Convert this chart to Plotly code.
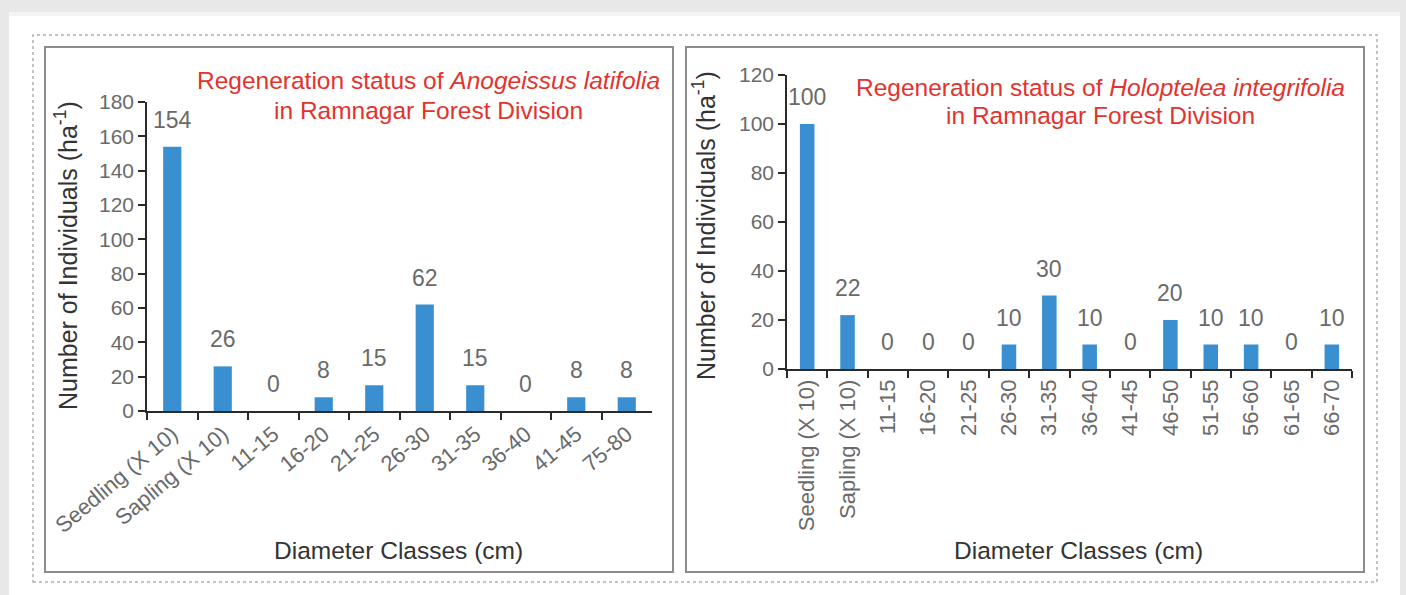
import plotly.graph_objects as go

# ---------------- data ----------------
left_categories = ["Seedling (X 10)", "Sapling (X 10)", "11-15", "16-20", "21-25",
                   "26-30", "31-35", "36-40", "41-45", "75-80"]
left_values = [154, 26, 0, 8, 15, 62, 15, 0, 8, 8]

right_categories = ["Seedling (X 10)", "Sapling (X 10)", "11-15", "16-20", "21-25",
                    "26-30", "31-35", "36-40", "41-45", "46-50", "51-55", "56-60",
                    "61-65", "66-70"]
right_values = [100, 22, 0, 0, 0, 10, 30, 10, 0, 20, 10, 10, 0, 10]

left_yticks = [0, 20, 40, 60, 80, 100, 120, 140, 160, 180]
right_yticks = [0, 20, 40, 60, 80, 100, 120]

left_title = ["Regeneration status of <i>Anogeissus latifolia</i>", "in Ramnagar Forest Division"]
right_title = ["Regeneration status of <i>Holoptelea integrifolia</i>", "in Ramnagar Forest Division"]
x_title = "Diameter Classes (cm)"
y_title = "Number of Individuals (ha<sup>-1</sup>)"

# ---------------- style ----------------
W, H = 1406, 595
FONT = "Liberation Sans, Arial, Helvetica, sans-serif"
BAR = "#3a8fd0"
RED = "#e2332d"
TICK = "#6a6a6a"
AXT = "#333333"


def px(x):
    return x / W


def py(y):
    return 1 - y / H


fig = go.Figure()
fig.add_trace(go.Bar(x=left_categories, y=left_values, marker_color=BAR,
                     xaxis="x", yaxis="y", showlegend=False, hoverinfo="x+y"))
fig.add_trace(go.Bar(x=right_categories, y=right_values, marker_color=BAR,
                     xaxis="x2", yaxis="y2", showlegend=False, hoverinfo="x+y"))

axis_common = dict(showline=True, linecolor="#2a2a2a", linewidth=1.6,
                   ticks="outside", ticklen=7, tickwidth=1.5, tickcolor="#2a2a2a",
                   showgrid=False, zeroline=False, automargin=False)
xfont = dict(family=FONT, size=22, color=TICK)
yfont = dict(family=FONT, size=21, color=TICK)

fig.update_layout(
    template="none",
    width=W, height=H, autosize=False,
    margin=dict(l=0, r=0, t=0, b=0, pad=0, autoexpand=False),
    paper_bgcolor="#e8e8e8", plot_bgcolor="rgba(0,0,0,0)",
    bargap=0.64,
    xaxis=dict(domain=[px(147), px(652)], anchor="y", type="category",
               categoryorder="array", categoryarray=left_categories,
               range=[-0.5, len(left_categories) - 0.5], tickfont=xfont,
               tickson="boundaries", tickangle=-40, **axis_common),
    yaxis=dict(domain=[py(411), py(102)], anchor="x", range=[0, 180],
               tickvals=left_yticks, tickfont=yfont, **axis_common),
    xaxis2=dict(domain=[px(787), px(1352)], anchor="y2", type="category",
                categoryorder="array", categoryarray=right_categories,
                range=[-0.5, len(right_categories) - 0.5], tickfont=xfont,
                tickson="boundaries", tickangle=-90, **axis_common),
    yaxis2=dict(domain=[py(369), py(75)], anchor="x2", range=[0, 120],
                tickvals=right_yticks, tickfont=yfont, **axis_common),
)

shapes = [
    # white card
    dict(type="rect", xref="paper", yref="paper", x0=px(9), x1=px(1400), y0=py(600), y1=py(16),
         fillcolor="white", line=dict(width=0), layer="below"),
    dict(type="rect", xref="paper", yref="paper", x0=px(9), x1=px(1400), y0=py(16), y1=py(12),
         fillcolor="#f4f4f4", line=dict(width=0), layer="below"),
    # dotted outer border
    dict(type="rect", xref="paper", yref="paper", x0=px(33), x1=px(1377), y0=py(582), y1=py(35),
         line=dict(color="#b0b0b0", width=1.5, dash="dot"), layer="below"),
    # panel boxes
    dict(type="rect", xref="paper", yref="paper", x0=px(45), x1=px(673), y0=py(572), y1=py(47),
         line=dict(color="#8c8c8c", width=2), layer="below"),
    dict(type="rect", xref="paper", yref="paper", x0=px(686), x1=px(1364), y0=py(572), y1=py(47),
         line=dict(color="#8c8c8c", width=2), layer="below"),
]

annotations = []
# data labels
for cats, vals, xr, yr in [(left_categories, left_values, "x", "y"),
                           (right_categories, right_values, "x2", "y2")]:
    for c, v in zip(cats, vals):
        annotations.append(dict(x=c, y=v, xref=xr, yref=yr, text=str(v), showarrow=False,
                                yanchor="bottom", yshift=12,
                                font=dict(family=FONT, size=23, color=TICK)))

# titles
for lines, cx, ys in [(left_title, 428, [81, 110]), (right_title, 1100, [87, 116])]:
    for t, yy in zip(lines, ys):
        annotations.append(dict(x=px(cx), y=py(yy), xref="paper", yref="paper", text=t,
                                showarrow=False, xanchor="center", yanchor="middle",
                                font=dict(family=FONT, size=24.5, color=RED)))

# axis titles
for cx in [398, 1078]:
    annotations.append(dict(x=px(cx), y=py(550), xref="paper", yref="paper", text=x_title,
                            showarrow=False, xanchor="center", yanchor="middle",
                            font=dict(family=FONT, size=24.5, color=AXT)))
for cx, cy in [(66, 256), (704, 226)]:
    annotations.append(dict(x=px(cx), y=py(cy), xref="paper", yref="paper", text=y_title,
                            showarrow=False, textangle=-90, xanchor="center", yanchor="middle",
                            font=dict(family=FONT, size=25, color=AXT)))

fig.update_layout(shapes=shapes, annotations=annotations)
fig.write_html("out.html",
               config={"displayModeBar": False},
               post_script="document.body.style.margin='0';document.body.style.padding='0';")
